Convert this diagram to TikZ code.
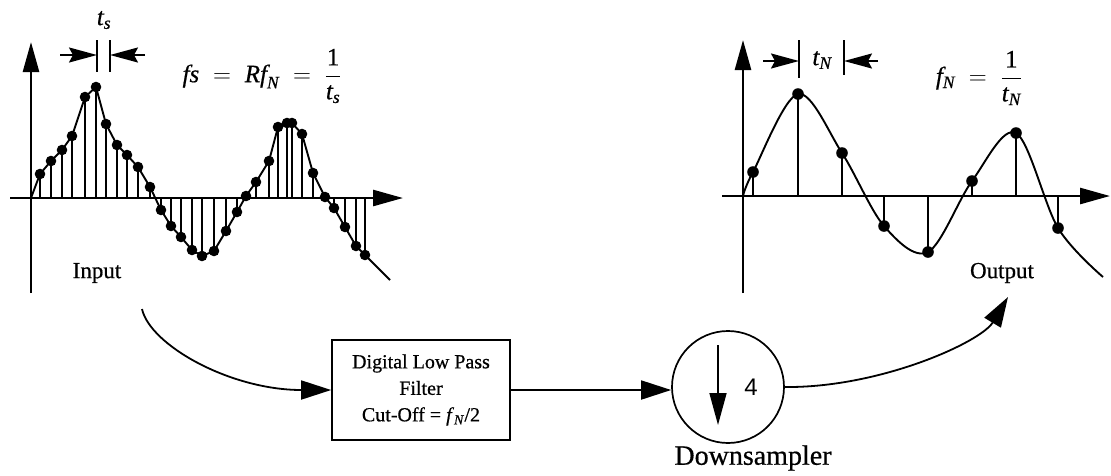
\documentclass[tikz,border=0pt]{standalone}
\usepackage{fontspec}
\setmainfont{Liberation Serif}[FakeBold=0.6]
\newfontfamily\sansf{Liberation Sans}
\usetikzlibrary{arrows.meta}
\begin{document}
\begin{tikzpicture}[x=1pt,y=-1pt,
  ax/.style={line width=2.6pt,-{Triangle[length=30pt,width=16pt]}},
  stem/.style={line width=2.2pt},
  sig/.style={line width=1.9pt},
  tick/.style={line width=2pt},
  mk/.style={line width=2pt,-{Stealth[length=28pt,width=15pt,inset=4pt]}},
  conn/.style={line width=1.8pt,-{Triangle[length=30pt,width=19pt]}},
  lbl/.style={font=\fontsize{23}{26}\selectfont},
  mlbl/.style={font=\fontsize{25}{28}\selectfont},
  blk/.style={draw,line width=1.7pt,align=center,font=\fontsize{20}{26.5}\selectfont},
]
\useasboundingbox (0,0) rectangle (1111,475);

% ---------------- left (input) plot ----------------
\def\leftpts{40/174,51/161,62/150,72/136,85/97,96/87,106/124,117/145,127/155,138/167,150/187,161/210,171/226,181/237,192/250,202/256,214/251,226/231,237/212,246/196,256/182,269/161,278/127,287/123,292/123,302/134,313/173,325/197,334/208,345/227,356/246,365/255}
\draw[ax] (10,198) -- (403,198);
\draw[ax] (31,293) -- (31,42);
\foreach \x/\y in \leftpts {\draw[stem] (\x,198) -- (\x,\y);}
\draw[sig] (31,198) \foreach \x/\y in \leftpts {-- (\x,\y)} -- (390,280);
\foreach \x/\y in \leftpts {\fill (\x,\y) circle (5.3);}

\draw[tick] (97,40) -- (97,72);
\draw[tick] (110,40) -- (110,72);
\draw[mk] (60,55) -- (97,55);
\draw[mk] (145,55) -- (110,55);
\node[mlbl] (ts) at (104,20) {$\mathit{t}_{\mathit{s}}$};
\node[mlbl] (fs) at (262,76) {$\displaystyle \mathit{fs}\;=\;\mathit{Rf}_{\mathit{N}}\;=\;\frac{\mathrm{1}}{\mathit{t}_{\mathit{s}}}$};
\node[lbl] (in) at (97,273) {Input};

% ---------------- right (output) plot ----------------
\def\rightpts{753/172,798/94,842/153,884/226,928/252,972/181,1016/133,1058/228}
\draw[ax] (722,196) -- (1110,196);
\draw[ax] (743,293) -- (743,40);
\foreach \x/\y in \rightpts {\draw[stem] (\x,196) -- (\x,\y);}
\draw[sig] plot[smooth,tension=0.55] coordinates {(743,196) (753,172) (798,94) (842,153) (884,226) (928,252) (972,181) (1016,133) (1058,228) (1103,277)};
\foreach \x/\y in \rightpts {\fill (\x,\y) circle (5.8);}

\draw[tick] (799,40) -- (799,78);
\draw[tick] (844,40) -- (844,75);
\draw[mk] (763,61) -- (799,61);
\draw[mk] (878,61) -- (844,61);
\node[mlbl] (tn) at (822,60) {$\mathit{t}_{\mathit{N}}$};
\node[mlbl] (fn) at (979,78) {$\displaystyle \mathit{f}_{\mathit{N}}\;=\;\frac{\mathrm{1}}{\mathit{t}_{\mathit{N}}}$};
\node[lbl] (out) at (1002,273) {Output};

% ---------------- processing chain ----------------
\node[blk,minimum width=178pt,minimum height=100pt] (filt) at (421,390)
  {Digital Low Pass\\Filter\\Cut-Off = \textit{f}\textsubscript{\textit{N}}/2};
\node[circle,draw,line width=1.7pt,minimum size=112pt] (ds) at (728,387) {};
\coordinate (dsTop) at (718,345);
\coordinate (dsBot) at (718,425);
\draw[line width=1.6pt,-{Triangle[length=32pt,width=17pt]}] (dsTop) -- (dsBot);
\node[font=\sansf\fontsize{24}{24}\selectfont] (four) at (751,387) {4};
\node[font=\fontsize{28}{30}\selectfont] (dslbl) at (753,458) {Downsampler};

\coordinate (inS) at (142,309);
\coordinate (outE) at (1008,297);
\draw[conn] (inS) .. controls (150,345) and (230,390) .. (filt.west);
\draw[conn] (filt.east) -- (filt.east -| ds.west);
\draw[conn] (ds.east) .. controls (880,388) and (981,342) .. (outE);
\end{tikzpicture}
\end{document}
